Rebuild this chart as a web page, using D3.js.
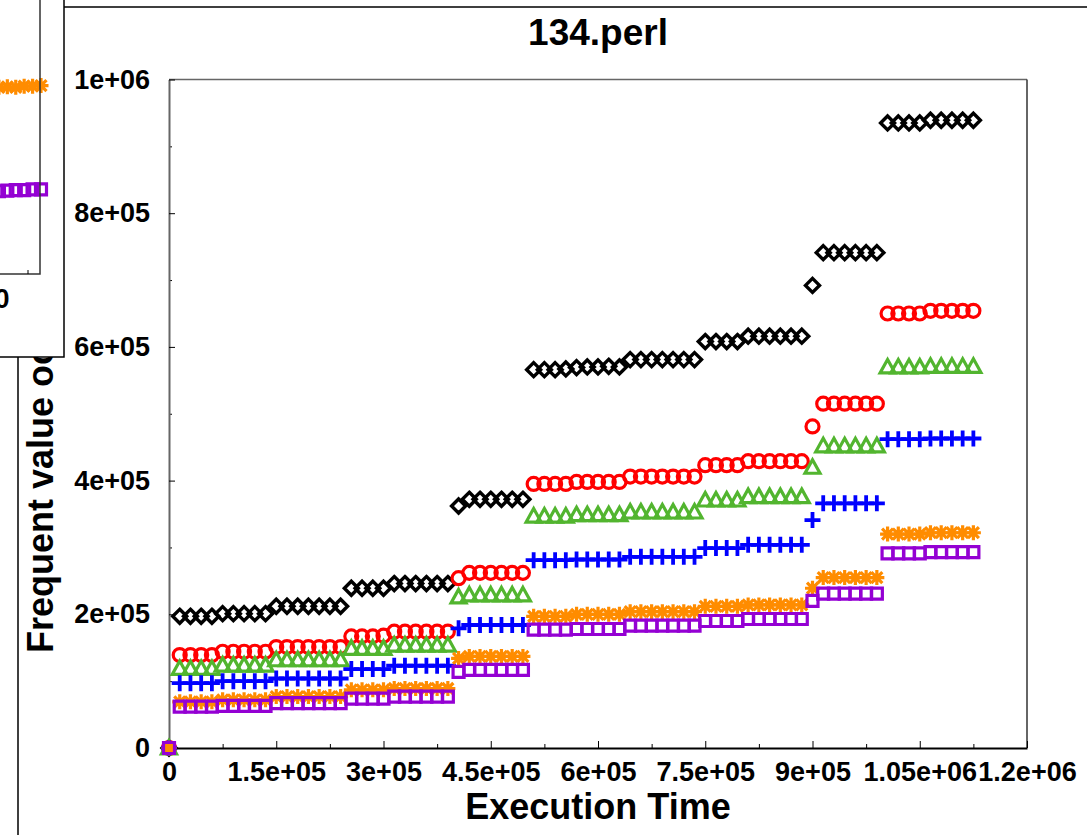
<!DOCTYPE html>
<html lang="en">
<head>
    <meta charset="UTF-8">
    <title>134.perl</title>
    <script src="https://d3js.org/d3.v7.min.js"></script>
    <style>
        body { margin: 0; background: #fff; }
        text { font-family: "Liberation Sans", Arial, sans-serif; font-weight: bold; fill: #000; }
    </style>
</head>
<body>
<svg width="1087" height="835"></svg>
<script>

    // sample times, in thousands
    let times = [0,15,30,45,60,75,90,105,120,135,150,165,180,195,210,225,240,255,270,285,
        300,315,330,345,360,375,390,405,420,435,450,465,480,495,510,525,540,555,570,585,
        600,615,630,645,660,675,690,705,720,735,750,765,780,795,810,825,840,855,870,885,
        900,915,930,945,960,975,990,1005,1020,1035,1050,1065,1080,1095,1110,1125];

    // series values, in thousands
    let blackVals = [0,
        197,197,197,197, 201,201,201,201,201, 212,212,212,212,212,212,212,
        239,239,239,239, 246,246,246,246,246,246, 362, 372,372,372,372,372,372,
        566,566,566,567, 569,570,570,571,570, 581,581,581,581,581,581,581,
        608,608,608,608, 616,616,616,616,616,616, 692, 741,741,741,741,741,741,
        935,935,935,935, 939,939,939,939,939];
    let redVals = [0,
        139,139,139,139, 144,144,144,144,144, 151,151,151,151,151,151,151,
        167,167,167,168, 174,174,174,174,174,174, 254, 262,262,262,262,262,262,
        395,395,395,395, 398,398,398,398,398, 406,406,406,406,406,406,406,
        423,423,423,423, 429,429,429,429,429,429, 481, 515,515,515,515,515,515,
        650,650,650,650, 654,654,654,654,654];
    let greenVals = [0,
        119,119,119,119, 124,124,124,124,124, 132,132,132,132,132,132,132,
        149,149,149,149, 154,154,154,154,154,154, 226, 229,229,229,229,229,229,
        347,347,347,347, 349,349,349,349,349, 353,353,353,353,353,353,353,
        371,371,371,371, 376,376,376,376,376,376, 420, 452,452,452,452,452,452,
        570,570,570,570, 571,571,571,571,571];
    let blueVals = [0,
        97,97,97,97, 100,100,100,100,100, 104,104,104,104,104,104,104,
        118,118,118,118, 123,123,123,123,123,123, 179, 184,184,184,184,184,184,
        281,281,281,281, 282,282,282,282,282, 286,286,286,286,286,286,286,
        299,299,299,299, 304,304,304,304,304,304, 341, 366,366,366,366,366,366,
        462,462,462,462, 463,463,463,463,463];
    let orangeVals = [0,
        69,69,69,69, 72,72,72,72,72, 77,77,77,77,77,77,77,
        87,87,87,87, 89,89,89,89,89,89, 134, 137,137,137,137,137,137,
        197,197,197,197, 200,200,200,200,200, 204,204,204,204,204,204,204,
        212,212,212,212, 214,214,214,214,214,214, 239, 255,255,255,255,255,255,
        320,320,320,320, 322,322,322,322,322];
    let purpleVals = [0,
        62,62,62,62, 63,63,63,63,63, 67,67,67,67,67,67,67,
        74,74,74,74, 77,77,77,77,77,77, 114, 117,117,117,117,117,117,
        177,177,177,177, 178,178,178,178,178, 183,183,183,183,183,183,183,
        190,190,190,190, 193,193,193,193,193,193, 220, 231,231,231,231,231,231,
        291,291,291,291, 293,293,293,293,293];

    let xTicks = [0, 150000, 300000, 450000, 600000, 750000, 900000, 1050000, 1200000];
    let xTickLabels = ["0", "1.5e+05", "3e+05", "4.5e+05", "6e+05", "7.5e+05", "9e+05", "1.05e+06", "1.2e+06"];
    let yTicks = [0, 200000, 400000, 600000, 800000, 1000000];
    let yTickLabels = ["0", "2e+05", "4e+05", "6e+05", "8e+05", "1e+06"];

    // the neighbouring chart that overlaps the top-left corner
    let insetTimes = [1000, 1010, 1020, 1030, 1040, 1050, 1060, 1070, 1080, 1090, 1100, 1110, 1120];
    let insetOrange = [305, 306, 305, 307, 308, 307, 308, 309, 310, 309, 311, 311, 312];
    let insetPurple = [134, 134, 135, 135, 136, 136, 137, 137, 138, 139, 139, 140, 140];

    let svg = d3.select("svg");

    let x = d3.scaleLinear().domain([0, 1200000]).range([169, 1027]);
    let y = d3.scaleLinear().domain([0, 1000000]).range([748, 79.5]);

    // outer frame of this figure
    svg.append("rect")
        .attr("x", 18).attr("y", 7).attr("width", 1200).attr("height", 1000)
        .attr("fill", "none").attr("stroke", "#000").attr("stroke-width", 1.5);

    // plot box
    svg.append("line").attr("x1", 169).attr("x2", 1027).attr("y1", 79.5).attr("y2", 79.5)
        .attr("stroke", "#666").attr("stroke-width", 1.5);
    svg.append("line").attr("x1", 1027).attr("x2", 1027).attr("y1", 79.5).attr("y2", 748)
        .attr("stroke", "#333").attr("stroke-width", 1.5);

    // minor ticks
    let minorX = d3.range(75000, 1200000, 150000);
    let minorY = d3.range(100000, 1000000, 200000);
    svg.append("g").attr("transform", "translate(0,748)")
        .call(d3.axisBottom(x).tickValues(minorX).tickSize(-4).tickFormat(""))
        .call(g => g.select(".domain").remove());
    svg.append("g").attr("transform", "translate(169,0)")
        .call(d3.axisLeft(y).tickValues(minorY).tickSize(-3).tickFormat(""))
        .call(g => g.select(".domain").remove());

    let xAxis = svg.append("g").attr("transform", "translate(0,748)")
        .call(d3.axisBottom(x).tickValues(xTicks).tickSize(-7).tickSizeOuter(0)
            .tickPadding(14).tickFormat((d, i) => xTickLabels[i]));
    xAxis.select(".domain").attr("stroke-width", 2);
    xAxis.selectAll("text").attr("font-size", 27);

    let yAxis = svg.append("g").attr("transform", "translate(169,0)")
        .call(d3.axisLeft(y).tickValues(yTicks).tickSize(-6).tickSizeOuter(0)
            .tickPadding(19).tickFormat((d, i) => yTickLabels[i]));
    yAxis.select(".domain").attr("stroke", "#666").attr("stroke-width", 2);
    yAxis.selectAll("text").attr("font-size", 27);

    // titles
    svg.append("text").attr("x", 598).attr("y", 45).attr("text-anchor", "middle")
        .attr("font-size", 37).text("134.perl");
    svg.append("text").attr("x", 598).attr("y", 819).attr("text-anchor", "middle")
        .attr("font-size", 36).text("Execution Time");
    svg.append("text").attr("transform", "translate(53,653) rotate(-90)")
        .attr("font-size", 36).text("Frequent value occurrences");

    // marker shapes
    let shapes = {
        diamond: "M0,-7L7,0L0,7L-7,0Z",
        triangle: "M0,-7.5L7.5,6L-7.5,6Z",
        plus: "M-8,0H8M0,-8V8",
        star: "M-7.5,0H7.5M0,-7.5V7.5M-5.5,-5.5L5.5,5.5M-5.5,5.5L5.5,-5.5",
        square: "M-5.5,-5.5H5.5V5.5H-5.5Z"
    };

    let series = [
        {vals: blackVals, color: "#000000", shape: "diamond", width: 3.4},
        {vals: redVals, color: "#ff0000", shape: "circle", width: 3.2},
        {vals: greenVals, color: "#52b52f", shape: "triangle", width: 3.2},
        {vals: blueVals, color: "#0000ff", shape: "plus", width: 3.8},
        {vals: orangeVals, color: "#ff8c00", shape: "star", width: 3.2},
        {vals: purpleVals, color: "#9400d3", shape: "square", width: 3.2}
    ];

    function drawMarkers(g, pts, s) {
        if (s.shape === "circle") {
            g.selectAll("circle").data(pts).join("circle")
                .attr("cx", d => d[0]).attr("cy", d => d[1]).attr("r", 6.5)
                .attr("fill", "none").attr("stroke", s.color).attr("stroke-width", s.width);
        } else {
            g.selectAll("path").data(pts).join("path")
                .attr("transform", d => "translate(" + d[0] + "," + d[1] + ")")
                .attr("d", shapes[s.shape])
                .attr("fill", "none").attr("stroke", s.color).attr("stroke-width", s.width);
        }
    }

    series.forEach(function(s) {
        let pts = times.map((t, i) => [x(t * 1000), y(s.vals[i] * 1000)]);
        drawMarkers(svg.append("g"), pts, s);
    });

    // inset chart overlapping the corner
    let inset = svg.append("g");
    inset.append("rect").attr("x", -10).attr("y", -10).attr("width", 74).attr("height", 367)
        .attr("fill", "#fff").attr("stroke", "#000").attr("stroke-width", 1.5);
    let insetClip = inset.append("g");
    let ix = d3.scaleLinear().domain([1000, 1120]).range([-60, 41]);
    let iy = d3.scaleLinear().domain([0, 1000]).range([274, -330]);
    drawMarkers(insetClip.append("g"), insetTimes.map((t, i) => [ix(t), iy(insetOrange[i])]),
        {color: "#ff8c00", shape: "star", width: 3.2});
    drawMarkers(insetClip.append("g"), insetTimes.map((t, i) => [ix(t), iy(insetPurple[i])]),
        {color: "#9400d3", shape: "square", width: 3.2});
    inset.append("path").attr("d", "M40,-5V274H-5").attr("fill", "none")
        .attr("stroke", "#333").attr("stroke-width", 1.5);
    inset.append("line").attr("x1", 28).attr("x2", 28).attr("y1", 274).attr("y2", 270)
        .attr("stroke", "#000");
    inset.append("text").attr("x", 9.5).attr("y", 308).attr("text-anchor", "end")
        .attr("font-size", 27).text("0");
</script>
</body>
</html>
